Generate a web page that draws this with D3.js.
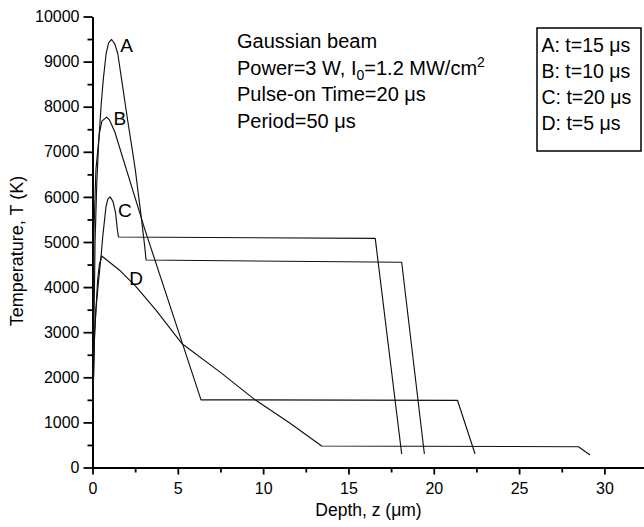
<!DOCTYPE html>
<html>
<head>
<meta charset="utf-8">
<script src="https://cdn.jsdelivr.net/npm/d3@7/dist/d3.min.js"></script>
<style>
  html, body { margin: 0; padding: 0; background: #fff; }
  svg { display: block; font-family: "Liberation Sans", Arial, Helvetica, sans-serif; }
</style>
</head>
<body>
<svg id="chart" width="644" height="527"></svg>
<script>
// ---- Data ----
const curveNames = ["A", "B", "C", "D"];
const legendLabels = ["A: t=15 \u03bcs", "B: t=10 \u03bcs", "C: t=20 \u03bcs", "D: t=5 \u03bcs"];

const depthA = [0.02, 0.08, 0.15, 0.25, 0.36, 0.5, 0.63, 0.8, 0.95, 1.12, 1.3, 1.48, 1.77, 2.06, 2.36, 2.51, 2.84, 3.04, 3.14, 18.12, 19.45];
const tempA  = [1300, 3000, 5000, 6300, 7200, 8000, 8600, 9180, 9420, 9490, 9400, 9180, 8440, 7700, 6970, 6600, 5600, 4970, 4600, 4550, 300];

const depthB = [0.02, 0.05, 0.08, 0.2, 0.4, 0.55, 0.83, 1.0, 1.3, 3.08, 6.36, 21.39, 22.42];
const tempB  = [1300, 3500, 5200, 6600, 7400, 7680, 7770, 7700, 7450, 5265, 1500, 1490, 300];

const depthC = [0.02, 0.12, 0.2, 0.36, 0.5, 0.6, 0.79, 0.9, 1.03, 1.2, 1.35, 1.45, 1.52, 16.57, 18.12];
const tempC  = [1300, 3000, 3500, 4160, 4670, 5120, 5780, 5950, 6000, 5900, 5650, 5300, 5110, 5080, 300];

const depthD = [0.02, 0.1, 0.17, 0.3, 0.4, 0.54, 1.57, 2.55, 3.72, 5.23, 7.5, 9.53, 11.58, 13.43, 28.48, 29.16];
const tempD  = [1300, 2700, 3270, 4150, 4500, 4690, 4380, 4010, 3490, 2750, 2110, 1500, 980, 477, 461, 277];

// curve label anchor points (data coordinates)
const labelDepth = [2.0, 1.6, 1.9, 2.55];
const labelTemp  = [9370, 7750, 5700, 4200];

const xMajorTicks = [0, 5, 10, 15, 20, 25, 30];
const xMinorTicks = [2.5, 7.5, 12.5, 17.5, 22.5, 27.5];
const yMajorTicks = [0, 1000, 2000, 3000, 4000, 5000, 6000, 7000, 8000, 9000, 10000];
const yMinorTicks = [500, 1500, 2500, 3500, 4500, 5500, 6500, 7500, 8500, 9500];

const infoLines = ["Gaussian beam", "Power=3 W, I0=1.2 MW/cm2", "Pulse-on Time=20 \u03bcs", "Period=50 \u03bcs"];

// ---- Drawing ----
const svg = d3.select("#chart");
const x = d3.scaleLinear().domain([0, 32.35]).range([92.5, 644.5]);
const y = d3.scaleLinear().domain([0, 10000]).range([467.5, 16.5]);

function styleAxis(g) {
  g.selectAll("path.domain").attr("stroke", "#000").attr("stroke-width", 2);
  g.selectAll(".tick line").attr("stroke", "#000").attr("stroke-width", 1.8);
  g.selectAll(".tick text").attr("fill", "#000").attr("font-size", 16)
    .attr("font-family", "'Liberation Sans', Arial, sans-serif");
}

const gxMinor = svg.append("g").attr("transform", `translate(0,${y(0)})`)
  .call(d3.axisBottom(x).tickValues(xMinorTicks).tickSize(5).tickSizeOuter(0).tickFormat(""));
styleAxis(gxMinor);
const gx = svg.append("g").attr("transform", `translate(0,${y(0)})`)
  .call(d3.axisBottom(x).tickValues(xMajorTicks).tickSize(7).tickPadding(8).tickSizeOuter(0).tickFormat(d3.format("d")));
styleAxis(gx);

const gyMinor = svg.append("g").attr("transform", `translate(${x(0)},0)`)
  .call(d3.axisLeft(y).tickValues(yMinorTicks).tickSize(5).tickSizeOuter(0).tickFormat(""));
styleAxis(gyMinor);
const gy = svg.append("g").attr("transform", `translate(${x(0)},0)`)
  .call(d3.axisLeft(y).tickValues(yMajorTicks).tickSize(9).tickPadding(4).tickSizeOuter(0).tickFormat(d3.format("d")));
styleAxis(gy);

// axis titles
svg.append("text")
  .attr("transform", "translate(23,251) rotate(-90)")
  .attr("text-anchor", "middle")
  .attr("font-size", 18)
  .text("Temperature, T (K)");

const xt = svg.append("text")
  .attr("x", (x.range()[0] + x.range()[1]) / 2)
  .attr("y", 516)
  .attr("text-anchor", "middle")
  .attr("font-size", 17.5);
xt.append("tspan").text("Depth, z (");
xt.append("tspan").text("\u03bc");
xt.append("tspan").text("m)");

// curves
const series = [
  { name: curveNames[0], z: depthA, t: tempA },
  { name: curveNames[1], z: depthB, t: tempB },
  { name: curveNames[2], z: depthC, t: tempC },
  { name: curveNames[3], z: depthD, t: tempD }
];
const line = d3.line().x(d => x(d[0])).y(d => y(d[1]));
svg.append("clipPath").attr("id", "plotclip").append("rect")
  .attr("x", x(0)).attr("y", 0).attr("width", 644 - x(0)).attr("height", y(0));
series.forEach(s => {
  const pts = s.z.map((v, i) => [v, s.t[i]]);
  svg.append("path")
    .datum(pts)
    .attr("d", line)
    .attr("fill", "none")
    .attr("stroke", "#111")
    .attr("stroke-width", 1.15)
    .attr("stroke-linejoin", "round")
    .attr("clip-path", "url(#plotclip)");
});

// curve labels
curveNames.forEach((n, i) => {
  svg.append("text")
    .attr("x", x(labelDepth[i]))
    .attr("y", y(labelTemp[i]))
    .attr("text-anchor", "middle")
    .attr("dy", "0.36em")
    .attr("font-size", 19)
    .text(n);
});

// info text block
const infoX = 237, infoY0 = 48, infoStep = 26.7, infoSize = 20;
svg.append("text").attr("x", infoX).attr("y", infoY0).attr("font-size", infoSize).text(infoLines[0]);
const p = svg.append("text").attr("x", infoX).attr("y", infoY0 + infoStep).attr("font-size", infoSize);
p.append("tspan").text("Power=3 W, I");
p.append("tspan").attr("font-size", 14).attr("dy", 5).text("0");
p.append("tspan").attr("dy", -5).text("=1.2 MW/cm");
p.append("tspan").attr("font-size", 14).attr("dy", -8).text("2");
svg.append("text").attr("x", infoX).attr("y", infoY0 + 2 * infoStep).attr("font-size", infoSize).text(infoLines[2]);
svg.append("text").attr("x", infoX).attr("y", infoY0 + 3 * infoStep).attr("font-size", infoSize).text(infoLines[3]);

// legend box
svg.append("rect")
  .attr("x", 537).attr("y", 28).attr("width", 104).attr("height", 123)
  .attr("fill", "none").attr("stroke", "#000").attr("stroke-width", 1.5);
legendLabels.forEach((l, i) => {
  svg.append("text")
    .attr("x", 541.5)
    .attr("y", 52 + i * 26)
    .attr("font-size", 19.5)
    .text(l);
});
</script>
</body>
</html>
